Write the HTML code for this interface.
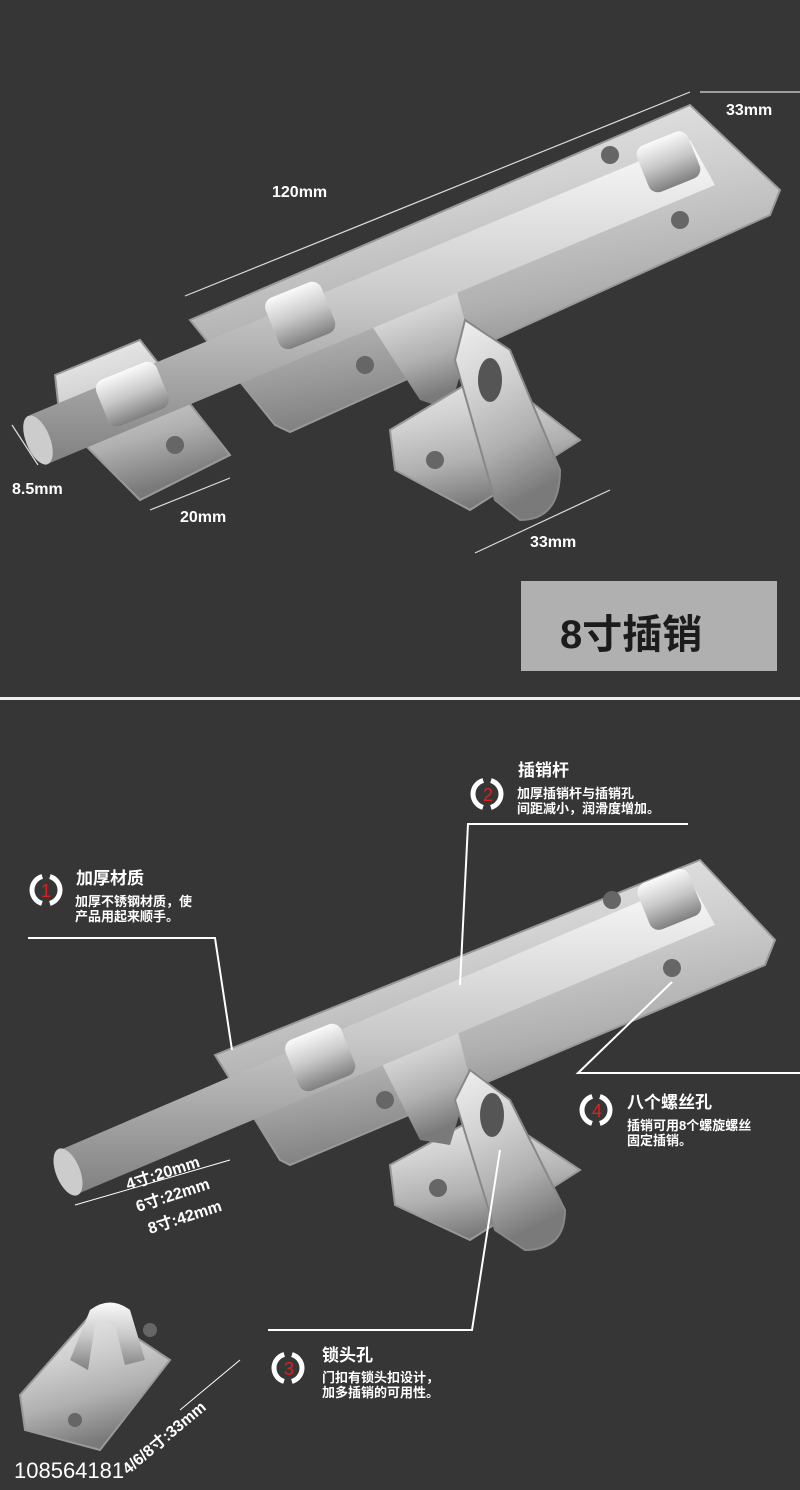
<!DOCTYPE html>
<html><head><meta charset="utf-8"><style>
html,body{margin:0;padding:0;background:#363636}
body{width:800px;height:1490px;position:relative;overflow:hidden;font-family:"Liberation Sans","Noto Sans CJK SC",sans-serif}
.t{position:absolute;color:#fff;font-weight:bold;white-space:nowrap}
</style></head><body>
<svg width="800" height="1490" style="position:absolute;left:0;top:0">
<defs>
<linearGradient id="m" x1="0" y1="0" x2="0.3" y2="1">
<stop offset="0" stop-color="#f0f0f0"/><stop offset="0.4" stop-color="#d0d0d0"/><stop offset="0.7" stop-color="#b0b0b0"/><stop offset="1" stop-color="#7a7a7a"/></linearGradient>
<linearGradient id="r" x1="0" y1="0" x2="0" y2="1">
<stop offset="0" stop-color="#fafafa"/><stop offset="0.5" stop-color="#c8c8c8"/><stop offset="1" stop-color="#808080"/></linearGradient>
</defs>
<rect width="800" height="1490" fill="#363636"/>
<rect x="0" y="697" width="800" height="3" fill="#eee"/>
<g stroke="#ddd" stroke-width="1.2" fill="none">
<line x1="185" y1="296" x2="690" y2="92"/>
<line x1="700" y1="92" x2="800" y2="92"/>
<line x1="12" y1="425" x2="38" y2="465"/>
<line x1="150" y1="510" x2="230" y2="478"/>
<line x1="475" y1="553" x2="610" y2="490"/>
</g>
<polygon points="190,320 690,105 780,190 770,215 290,432 275,425" fill="url(#m)" stroke="#999" stroke-width="2"/>
<polygon points="355,300 455,285 470,340 450,410 420,400" fill="url(#m)"/>
<polygon points="390,430 490,370 580,440 470,510 395,470" fill="url(#m)" stroke="#999" stroke-width="2"/>
<path d="M465,320 L510,350 L560,470 Q560,520 520,520 L495,500 L455,360Z" fill="url(#m)" stroke="#888" stroke-width="2"/>
<polygon points="55,375 140,340 230,455 140,500 60,420" fill="url(#m)" stroke="#999" stroke-width="2"/>
<polygon points="30,415 690,140 715,185 45,465" fill="url(#r)"/>
<ellipse cx="38" cy="440" rx="12" ry="26" transform="rotate(-22 38 440)" fill="#ccc"/>
<rect x="100" y="370" width="65" height="50" rx="10" transform="rotate(-22 130 395)" fill="url(#r)"/>
<rect x="270" y="288" width="60" height="55" rx="10" transform="rotate(-22 300 315)" fill="url(#r)"/>
<rect x="640" y="138" width="55" height="50" rx="10" transform="rotate(-22 665 160)" fill="url(#r)"/>
<circle cx="610" cy="155" r="9" fill="#666"/><circle cx="680" cy="220" r="9" fill="#666"/>
<circle cx="365" cy="365" r="9" fill="#666"/><circle cx="175" cy="445" r="9" fill="#666"/>
<circle cx="435" cy="460" r="9" fill="#666"/><ellipse cx="490" cy="380" rx="12" ry="22" fill="#555"/>
<rect x="521" y="581" width="256" height="90" fill="#b0b0b0"/>
<polygon points="215,1055 700,860 775,940 765,965 290,1165 280,1160" fill="url(#m)" stroke="#999" stroke-width="2"/>
<polygon points="390,1165 490,1110 580,1170 470,1240 395,1205" fill="url(#m)" stroke="#999" stroke-width="2"/>
<polygon points="370,1040 455,1020 470,1080 450,1145 420,1140" fill="url(#m)"/>
<path d="M470,1070 L510,1100 L565,1210 Q565,1250 525,1250 L495,1230 L455,1100Z" fill="url(#m)" stroke="#888" stroke-width="2"/>
<polygon points="60,1150 690,880 715,925 75,1195" fill="url(#r)"/>
<ellipse cx="68" cy="1172" rx="12" ry="25" transform="rotate(-22 68 1172)" fill="#ccc"/>
<rect x="290" y="1030" width="60" height="55" rx="10" transform="rotate(-22 320 1057)" fill="url(#r)"/>
<rect x="642" y="875" width="55" height="50" rx="10" transform="rotate(-22 668 900)" fill="url(#r)"/>
<circle cx="612" cy="900" r="9" fill="#666"/><circle cx="672" cy="968" r="9" fill="#666"/>
<circle cx="385" cy="1100" r="9" fill="#666"/><circle cx="438" cy="1188" r="9" fill="#666"/>
<ellipse cx="492" cy="1115" rx="12" ry="22" fill="#555"/>
<polygon points="20,1395 95,1310 170,1360 100,1450 25,1430" fill="url(#m)" stroke="#999" stroke-width="2"/>
<path d="M70,1360 L90,1310 Q110,1295 130,1310 L145,1360 L125,1365 L115,1325 Q105,1315 95,1325 L88,1370Z" fill="url(#r)"/>
<circle cx="75" cy="1420" r="7" fill="#666"/><circle cx="150" cy="1330" r="7" fill="#666"/>
<g stroke="#fff" stroke-width="2" fill="none">
<polyline points="28,938 215,938 232,1050"/>
<polyline points="688,824 468,824 460,985"/>
<polyline points="800,1073 578,1073 672,982"/>
<polyline points="268,1330 472,1330 500,1150"/>
<line x1="75" y1="1205" x2="230" y2="1160" stroke-width="1"/>
<line x1="180" y1="1410" x2="240" y2="1360" stroke-width="1"/>
</g>
<g fill="none" stroke="#fff" stroke-width="5">
<circle cx="46" cy="890" r="14" stroke-dasharray="36 8" stroke-dashoffset="-4" transform="rotate(-90 46 890)"/>
<circle cx="487" cy="794" r="14" stroke-dasharray="36 8" stroke-dashoffset="-4" transform="rotate(-90 487 794)"/>
<circle cx="596" cy="1110" r="14" stroke-dasharray="36 8" stroke-dashoffset="-4" transform="rotate(-90 596 1110)"/>
<circle cx="288" cy="1368" r="14" stroke-dasharray="36 8" stroke-dashoffset="-4" transform="rotate(-90 288 1368)"/>
</g>
<g fill="#e02020" font-family="Liberation Sans" font-size="18" text-anchor="middle">
<text x="46" y="897">1</text><text x="488" y="801">2</text><text x="597" y="1117">4</text><text x="289" y="1375">3</text>
</g>
<g fill="#fff" font-family="Liberation Sans,Noto Sans CJK SC,sans-serif" font-weight="bold" font-size="16">
<text x="272" y="197">120mm</text>
<text x="726" y="115">33mm</text>
<text x="12" y="494">8.5mm</text>
<text x="180" y="522">20mm</text>
<text x="530" y="547">33mm</text>
<text transform="translate(128,1190) rotate(-18)">4寸:20mm</text>
<text transform="translate(138,1212) rotate(-18)">6寸:22mm</text>
<text transform="translate(150,1234) rotate(-18)">8寸:42mm</text>
<text transform="translate(128,1475) rotate(-40)">4/6/8寸:33mm</text>
</g>
<text x="14" y="1478" fill="#fff" font-family="Liberation Sans" font-size="22">108564181</text>
</svg>
<div class="t" style="left:560px;top:602px;font-size:40px;color:#1c1c1c;font-weight:bold">8寸插销</div>
<div class="t" style="left:76px;top:864px;font-size:17px">加厚材质</div>
<div class="t" style="left:75px;top:894px;font-size:13px;line-height:15px">加厚不锈钢材质，使<br>产品用起来顺手。</div>
<div class="t" style="left:518px;top:756px;font-size:17px">插销杆</div>
<div class="t" style="left:517px;top:786px;font-size:13px;line-height:15px">加厚插销杆与插销孔<br>间距减小，润滑度增加。</div>
<div class="t" style="left:627px;top:1088px;font-size:17px">八个螺丝孔</div>
<div class="t" style="left:627px;top:1118px;font-size:13px;line-height:15px">插销可用8个螺旋螺丝<br>固定插销。</div>
<div class="t" style="left:322px;top:1341px;font-size:17px">锁头孔</div>
<div class="t" style="left:322px;top:1370px;font-size:13px;line-height:15px">门扣有锁头扣设计，<br>加多插销的可用性。</div>
</body></html>
